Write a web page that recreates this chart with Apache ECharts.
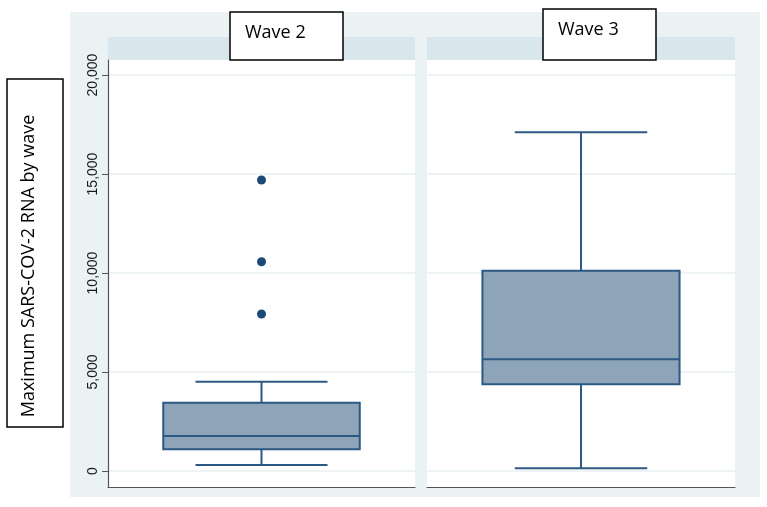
<!DOCTYPE html>
<html><head><meta charset="utf-8">
<script src="https://cdn.jsdelivr.net/npm/echarts@6/dist/echarts.min.js"></script>
<style>html,body{margin:0;padding:0;background:#fff}#c{width:767px;height:507px}</style>
</head><body><div id="c"></div>
<script>
// ---- data ----
const categories = ['Wave 2', 'Wave 3'];
const lowerWhisker = [303, 136];
const lowerQuartile = [1095, 4377];
const medians = [1768, 5640];
const upperQuartile = [3450, 10116];
const upperWhisker = [4510, 17106];
const wave2Outliers = [14700, 10570, 7930];
const wave3Outliers = [];
const yTicks = [0, 5000, 10000, 15000, 20000];
const yAxisTitle = 'Maximum SARS-COV-2 RNA by wave';

// ---- style ----
const FILL = '#8da4b9';
const LINE = '#2c5884';
const DOT = '#1b4a78';
const AXIS = '#555555';
const GRIDLINE = '#e9f1f3';
const Y_MIN = -808, Y_MAX = 20758;

function renderBox(params, api) {
  const x = api.value(0);
  const band = api.size([1, 0])[0];
  const pLow = api.coord([x, api.value(1)]);
  const pQ1 = api.coord([x, api.value(2)]);
  const pMed = api.coord([x, api.value(3)]);
  const pQ3 = api.coord([x, api.value(4)]);
  const pHigh = api.coord([x, api.value(5)]);
  const cx = pMed[0];
  const bw = band * 0.64, cw = band * 0.43;
  const ls = { stroke: LINE, lineWidth: 2 };
  return { type: 'group', children: [
    { type: 'line', shape: { x1: cx, y1: pQ3[1], x2: cx, y2: pHigh[1] }, style: ls },
    { type: 'line', shape: { x1: cx, y1: pQ1[1], x2: cx, y2: pLow[1] }, style: ls },
    { type: 'line', shape: { x1: cx - cw / 2, y1: pHigh[1], x2: cx + cw / 2, y2: pHigh[1] }, style: ls },
    { type: 'line', shape: { x1: cx - cw / 2, y1: pLow[1], x2: cx + cw / 2, y2: pLow[1] }, style: ls },
    { type: 'rect', shape: { x: cx - bw / 2, y: pQ3[1], width: bw, height: pQ1[1] - pQ3[1] }, style: { fill: FILL, stroke: LINE, lineWidth: 2 } },
    { type: 'line', shape: { x1: cx - bw / 2, y1: pMed[1], x2: cx + bw / 2, y2: pMed[1] }, style: ls }
  ]};
}

const outlierSets = [wave2Outliers, wave3Outliers];
const grids = [
  { left: 108, top: 60, width: 307, height: 427 },
  { left: 427, top: 60, width: 308, height: 427 }
];

const xAxes = [], yAxes = [], series = [];
categories.forEach((cat, i) => {
  xAxes.push({
    type: 'category', gridIndex: i, data: [cat],
    axisLine: { show: true, onZero: false, lineStyle: { color: AXIS, width: 1.2 } },
    axisTick: { show: false }, axisLabel: { show: false }, splitLine: { show: false }
  });
  yAxes.push({
    type: 'value', gridIndex: i, min: Y_MIN, max: Y_MAX,
    axisLine: { show: i === 0, onZero: false, lineStyle: { color: AXIS, width: 1.2 } },
    axisTick: { show: i === 0, length: 6, customValues: yTicks, lineStyle: { color: AXIS } },
    axisLabel: {
      show: i === 0, customValues: yTicks, rotate: 90, margin: 8,
      fontFamily: 'Liberation Sans', fontSize: 14, color: '#1a1a1a',
      formatter: v => v.toLocaleString('en-US')
    },
    splitLine: { show: true, lineStyle: { color: GRIDLINE, width: 1.5 } }
  });
  series.push({
    type: 'custom', xAxisIndex: i, yAxisIndex: i, renderItem: renderBox,
    data: [[0, lowerWhisker[i], lowerQuartile[i], medians[i], upperQuartile[i], upperWhisker[i]]],
    z: 3
  });
  series.push({
    type: 'scatter', xAxisIndex: i, yAxisIndex: i, symbolSize: 9,
    itemStyle: { color: DOT, opacity: 1 }, data: outlierSets[i].map(v => [0, v]), z: 4
  });
});

const chart = echarts.init(document.getElementById('c'), null, { renderer: 'canvas' });
chart.setOption({
  animation: false,
  backgroundColor: '#ffffff',
  grid: grids.map(g => Object.assign({ show: true, backgroundColor: '#ffffff', borderWidth: 0, containLabel: false }, g)),
  xAxis: xAxes,
  yAxis: yAxes,
  series: series,
  graphic: [
    { type: 'rect', z: -20, silent: true, shape: { x: 70, y: 12, width: 690, height: 485 }, style: { fill: '#eaf2f3' } },
    { type: 'rect', z: -10, silent: true, shape: { x: 108, y: 37, width: 307, height: 23 }, style: { fill: '#d9e6ec' } },
    { type: 'rect', z: -10, silent: true, shape: { x: 427, y: 37, width: 308, height: 23 }, style: { fill: '#d9e6ec' } },
    { type: 'rect', z: 50, shape: { x: 230, y: 12, width: 113, height: 48 }, style: { fill: '#fff', stroke: '#000', lineWidth: 1.5 } },
    { type: 'text', z: 51, x: 245, y: 33, style: { text: categories[0], font: '18px "Open Sans"', fill: '#000', align: 'left', verticalAlign: 'middle' } },
    { type: 'rect', z: 50, shape: { x: 543, y: 9, width: 113, height: 51 }, style: { fill: '#fff', stroke: '#000', lineWidth: 1.5 } },
    { type: 'text', z: 51, x: 558, y: 30, style: { text: categories[1], font: '18px "Open Sans"', fill: '#000', align: 'left', verticalAlign: 'middle' } },
    { type: 'rect', z: 50, shape: { x: 7, y: 79, width: 56, height: 348 }, style: { fill: '#fff', stroke: '#000', lineWidth: 1.5 } },
    { type: 'text', z: 51, x: 29, y: 266, rotation: Math.PI / 2, style: { text: yAxisTitle, font: '18px "Open Sans"', fill: '#000', align: 'center', verticalAlign: 'middle' } }
  ]
});
</script>
</body></html>
